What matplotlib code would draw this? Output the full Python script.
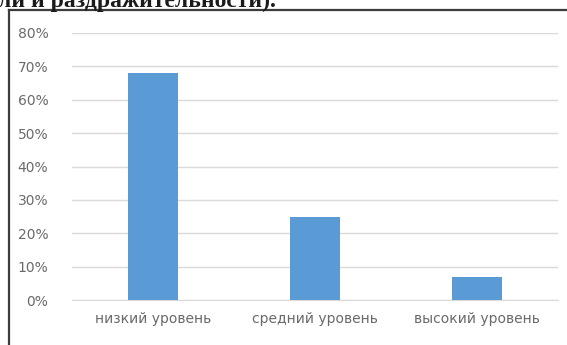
import matplotlib.pyplot as plt
from matplotlib.lines import Line2D
from matplotlib.ticker import PercentFormatter

# data
categories = ['низкий уровень', 'средний уровень', 'высокий уровень']
values = [0.68, 0.25, 0.07]
yticks = [0, 0.1, 0.2, 0.3, 0.4, 0.5, 0.6, 0.7, 0.8]

fig = plt.figure(figsize=(5.67, 3.45), dpi=100)
ax = fig.add_axes([72 / 567, 45 / 345, 486 / 567, 267 / 345])

ax.bar(range(len(categories)), values, width=0.31, color='#5b9bd5', zorder=3)

ax.set_xlim(-0.5, 2.5)
ax.set_ylim(0, 0.8)
ax.set_yticks(yticks)
ax.yaxis.set_major_formatter(PercentFormatter(1.0, decimals=0))
ax.set_xticks(range(len(categories)))
ax.set_xticklabels(categories)

ax.grid(axis='y', color='#d9d9d9', linewidth=1, zorder=0)
for s in ['top', 'right', 'left']:
    ax.spines[s].set_visible(False)
ax.spines['bottom'].set_color('#d9d9d9')
ax.tick_params(length=0, colors='#6a6a6a', labelsize=10)
ax.tick_params(axis='y', pad=17)
ax.tick_params(axis='x', pad=9)

# frame of the pasted chart (only left and top edges visible)
fig.add_artist(Line2D([9 / 567, 9 / 567], [0, 1 - 10 / 345], color='#3c3c3c', linewidth=1.6))
fig.add_artist(Line2D([9 / 567, 1], [1 - 10 / 345, 1 - 10 / 345], color='#3c3c3c', linewidth=1.6))

# document text cut off at the top of the screenshot
fig.text(-2 / 567, 1 - 7 / 345, 'ли и раздражительности).', fontsize=17, fontweight='bold',
         family='Liberation Serif', color='#1a1a1a', va='baseline', ha='left')

fig.savefig('out.png', dpi=100)
